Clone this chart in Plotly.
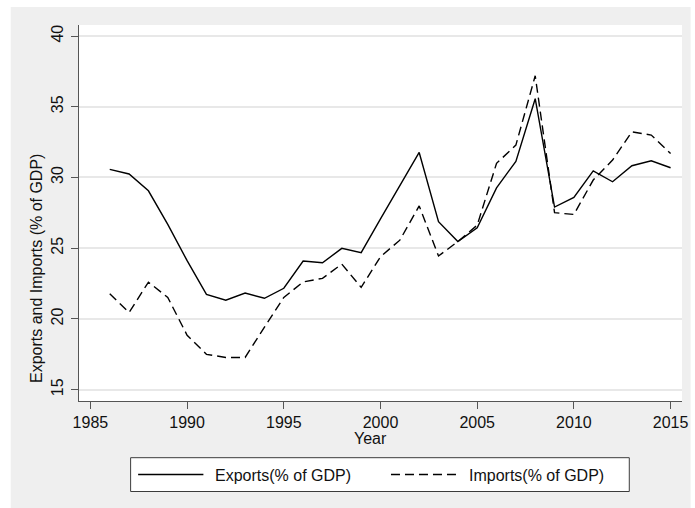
import plotly.graph_objects as go

# Annual trade shares, 1986-2015
years = list(range(1986, 2016))
exports_pct_gdp = [30.57, 30.25, 29.06, 26.69, 24.12, 21.74, 21.33, 21.83, 21.46, 22.17,
                   24.09, 23.97, 24.99, 24.69, 27.08, 29.45, 31.77, 26.88, 25.47, 26.45,
                   29.27, 31.14, 35.57, 27.91, 28.59, 30.47, 29.70, 30.83, 31.18, 30.69]
imports_pct_gdp = [21.79, 20.46, 22.60, 21.52, 18.85, 17.50, 17.28, 17.28, 19.42, 21.52,
                   22.62, 22.87, 23.88, 22.23, 24.40, 25.57, 27.99, 24.45, 25.47, 26.63,
                   31.00, 32.29, 37.19, 27.51, 27.39, 29.82, 31.23, 33.23, 33.00, 31.70]
series_names = ["Exports(% of GDP)", "Imports(% of GDP)"]
x_ticks = [1985, 1990, 1995, 2000, 2005, 2010, 2015]
y_ticks = [15, 20, 25, 30, 35, 40]

W, H = 695, 508
L, R, T, B = 78.5, 688.3, 25, 401  # plot area edges in pixels
FONT = "Liberation Sans, Arial, sans-serif"
FS = 16
DASH = "9px,5px"


def px_x(x):
    return (x - L) / (R - L)


def px_y(y):
    return (B - y) / (B - T)


fig = go.Figure()
fig.add_trace(go.Scatter(x=years, y=exports_pct_gdp, mode="lines", name=series_names[0],
                         line=dict(color="black", width=1.4), showlegend=False))
fig.add_trace(go.Scatter(x=years, y=imports_pct_gdp, mode="lines", name=series_names[1],
                         line=dict(color="black", width=1.4, dash=DASH), showlegend=False))

shapes = [
    # grey graph region and white plot region
    dict(type="rect", xref="paper", yref="paper", layer="below",
         x0=px_x(9.5), x1=px_x(W + 2), y0=px_y(H + 2), y1=px_y(7),
         fillcolor="#efefef", line=dict(width=0)),
    dict(type="rect", xref="paper", yref="paper", layer="below",
         x0=0, x1=1, y0=0, y1=1, fillcolor="white", line=dict(width=0)),
    # legend box and keys
    dict(type="rect", xref="paper", yref="paper",
         x0=px_x(130.7), x1=px_x(635), y0=px_y(491.5), y1=px_y(457.7),
         fillcolor="white", line=dict(color="#3c3c3c", width=1)),
    dict(type="line", xref="paper", yref="paper",
         x0=px_x(138.3), x1=px_x(204.3), y0=px_y(474.5), y1=px_y(474.5),
         line=dict(color="black", width=1.4)),
    dict(type="line", xref="paper", yref="paper",
         x0=px_x(394), x1=px_x(461), y0=px_y(474.5), y1=px_y(474.5),
         line=dict(color="black", width=1.4, dash=DASH)),
]

annotations = [
    dict(text="Year", xref="paper", yref="paper", x=px_x(373.3), y=px_y(438),
         showarrow=False, xanchor="center", yanchor="middle",
         font=dict(family=FONT, size=FS, color="#111")),
    dict(text="Exports and Imports (% of GDP)", xref="paper", yref="paper",
         x=px_x(35), y=px_y(268), textangle=-90, showarrow=False,
         xanchor="center", yanchor="middle",
         font=dict(family=FONT, size=FS, color="#111")),
    dict(text=series_names[0], xref="paper", yref="paper", x=px_x(214), y=px_y(475.5),
         showarrow=False, xanchor="left", yanchor="middle",
         font=dict(family=FONT, size=FS, color="#111")),
    dict(text=series_names[1], xref="paper", yref="paper", x=px_x(470.5), y=px_y(475.5),
         showarrow=False, xanchor="left", yanchor="middle",
         font=dict(family=FONT, size=FS, color="#111")),
]

axis_common = dict(showline=True, linecolor="#555", linewidth=1, ticks="outside",
                   ticklen=7, tickwidth=1, tickcolor="#555", zeroline=False,
                   tickfont=dict(family=FONT, size=FS, color="#111"))

fig.update_layout(
    width=W, height=H,
    margin=dict(l=L, r=W - R, t=T, b=H - B),
    paper_bgcolor="white", plot_bgcolor="rgba(0,0,0,0)",
    shapes=shapes, annotations=annotations, showlegend=False,
    xaxis=dict(range=[1984.41, 2015.59], tickvals=x_ticks, showgrid=False, **axis_common),
    yaxis=dict(range=[14.2, 40.78], tickvals=y_ticks, tickangle=-90, showgrid=True,
               gridcolor="#e8e8e8", gridwidth=1.5, ticklabelstandoff=2, **axis_common),
)

fig.write_html("out.html")
